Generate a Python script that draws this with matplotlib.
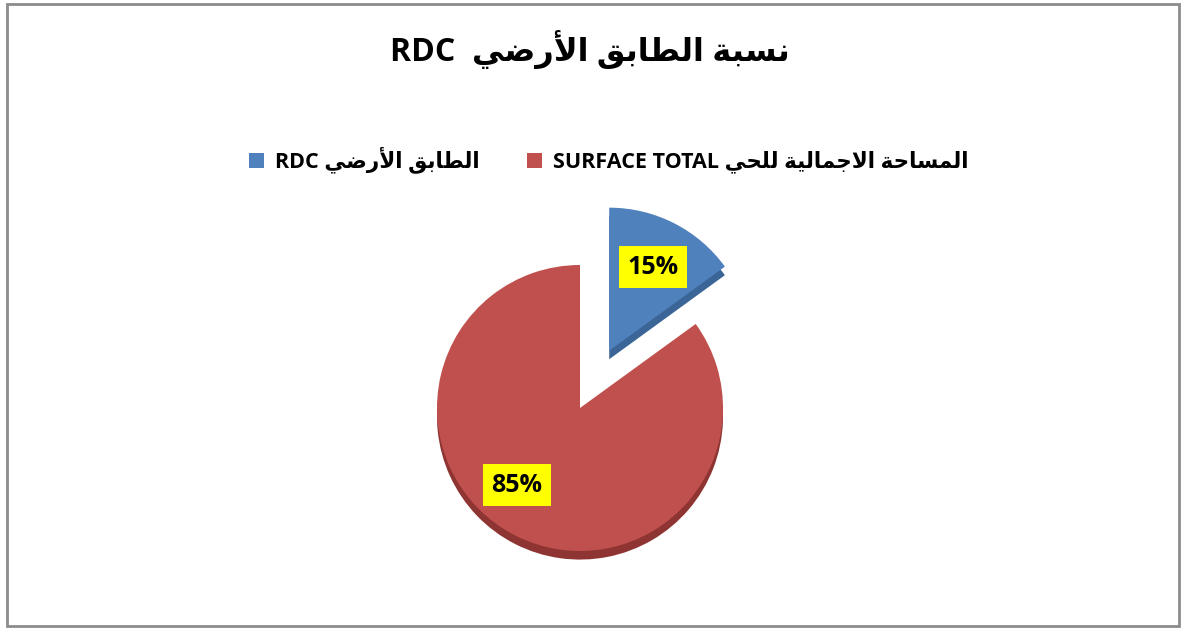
import re
import matplotlib
matplotlib.use('Agg')
import matplotlib.pyplot as plt
from matplotlib.patches import Patch, Rectangle

# ===========================
# Dados
# ===========================
TITLE = 'نسبة الطابق الأرضي  RDC'
LABELS = ['الطابق الأرضي RDC', 'المساحة الاجمالية للحي SURFACE TOTAL']
VALUES = [15, 85]
PCT_LABELS = ['15%', '85%']
COLORS = ['#4F81BD', '#C0504D']
DEPTH_COLORS = ['#3A6596', '#8E3432']

# ===========================
# Formas contextuais do árabe (isolada, final, inicial, medial)
# ===========================
FORMS = {
    '\u0627': ('\uFE8D', '\uFE8E', None, None),
    '\u0623': ('\uFE83', '\uFE84', None, None),
    '\u0628': ('\uFE8F', '\uFE90', '\uFE91', '\uFE92'),
    '\u0629': ('\uFE93', '\uFE94', None, None),
    '\u062A': ('\uFE95', '\uFE96', '\uFE97', '\uFE98'),
    '\u062C': ('\uFE9D', '\uFE9E', '\uFE9F', '\uFEA0'),
    '\u062D': ('\uFEA1', '\uFEA2', '\uFEA3', '\uFEA4'),
    '\u0631': ('\uFEAD', '\uFEAE', None, None),
    '\u0633': ('\uFEB1', '\uFEB2', '\uFEB3', '\uFEB4'),
    '\u0636': ('\uFEBD', '\uFEBE', '\uFEBF', '\uFEC0'),
    '\u0637': ('\uFEC1', '\uFEC2', '\uFEC3', '\uFEC4'),
    '\u0642': ('\uFED5', '\uFED6', '\uFED7', '\uFED8'),
    '\u0644': ('\uFEDD', '\uFEDE', '\uFEDF', '\uFEE0'),
    '\u0645': ('\uFEE1', '\uFEE2', '\uFEE3', '\uFEE4'),
    '\u0646': ('\uFEE5', '\uFEE6', '\uFEE7', '\uFEE8'),
    '\u064A': ('\uFEF1', '\uFEF2', '\uFEF3', '\uFEF4'),
}
LAM_ALEF = {'\u0627': ('\uFEFB', '\uFEFC'), '\u0623': ('\uFEF7', '\uFEF8')}


def shape(text):
    out = []
    i = 0
    n = len(text)
    while i < n:
        ch = text[i]
        if ch not in FORMS:
            out.append(ch)
            i += 1
            continue
        prev = text[i - 1] if i > 0 else ''
        prev_joins = prev in FORMS and FORMS[prev][2] is not None
        if ch == '\u0644' and i + 1 < n and text[i + 1] in LAM_ALEF:
            out.append(LAM_ALEF[text[i + 1]][1 if prev_joins else 0])
            i += 2
            continue
        nxt = text[i + 1] if i + 1 < n else ''
        next_joins = FORMS[ch][2] is not None and nxt in FORMS
        iso, fin, ini, med = FORMS[ch]
        if prev_joins and next_joins:
            out.append(med)
        elif prev_joins:
            out.append(fin)
        elif next_joins:
            out.append(ini)
        else:
            out.append(iso)
        i += 1
    return ''.join(out)


def rtl(text):
    # ordem visual: trechos latinos mantidos, trechos árabes invertidos
    segs = re.findall(r'[A-Za-z][A-Za-z ]*[A-Za-z]|[^A-Za-z]+', shape(text))
    segs = [s if re.match(r'[A-Za-z]', s) else s[::-1] for s in segs]
    return ''.join(segs[::-1])


FONT = ['Open Sans', 'DejaVu Sans']

# ===========================
# Figura
# ===========================
W, H = 1181, 628
fig = plt.figure(figsize=(W / 100, H / 100), dpi=100)
fig.patch.set_facecolor('white')
fig.add_artist(Rectangle((7 / W, 2 / H), (W - 9) / W, (H - 6) / H,
                         transform=fig.transFigure, fill=False,
                         edgecolor='#8C8C8C', linewidth=2))

fig.text(590 / W, 1 - 50 / H, rtl(TITLE), ha='center', va='center',
         fontsize=23, fontweight='bold', family=FONT)

# Pizza: centro (580, 408) px, raio ~143 px
cx, cy, r_px, a = 580, 408, 143, 1.5
side = 2 * a * r_px
ax = fig.add_axes([(cx - side / 2) / W, (H - cy - side / 2) / H, side / W, side / H])

explode = [0.45, 0]
# profundidade (efeito 3D)
ax.pie(VALUES, colors=DEPTH_COLORS, startangle=90, counterclock=False,
       explode=explode, radius=1, center=(0, -0.06),
       wedgeprops=dict(linewidth=0))
wedges, _ = ax.pie(VALUES, colors=COLORS, startangle=90, counterclock=False,
                   explode=explode, radius=1, wedgeprops=dict(linewidth=0))
ax.set_xlim(-a, a)
ax.set_ylim(-a, a)
ax.set_aspect('equal')
ax.axis('off')

label_pos = [(653, 267), (517, 485)]
for lbl, (px, py) in zip(PCT_LABELS, label_pos):
    fig.text(px / W, 1 - py / H, lbl, ha='center', va='center',
             fontsize=18, fontweight='bold', family=FONT,
             bbox=dict(boxstyle='square,pad=0.35', facecolor='#FFFF00', edgecolor='none'))

handles = [Patch(facecolor=c, edgecolor='none') for c in COLORS]
fig.legend(handles, [rtl(l) for l in LABELS], loc='center',
           bbox_to_anchor=(609 / W, 1 - 160 / H), ncol=2, frameon=False,
           handlelength=0.7, handleheight=0.7, handletextpad=0.5,
           columnspacing=2.2, prop=dict(family=FONT, weight='bold', size=15.5))

fig.savefig('out.png', dpi=100)
